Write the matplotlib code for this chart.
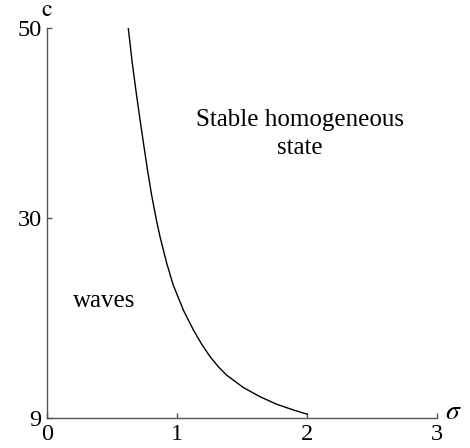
import matplotlib
matplotlib.use("Agg")
import matplotlib.pyplot as plt

# Boundary curve c(sigma) separating the wave regime from the stable state
sigma = [0.625, 0.655, 0.685, 0.715, 0.745, 0.775, 0.805, 0.840, 0.870,
         0.920, 0.970, 1.050, 1.126, 1.190, 1.254, 1.320, 1.382, 1.510,
         1.638, 1.765, 1.895, 2.0]
c = [50.0, 46.4, 43.3, 40.4, 37.6, 34.9, 32.4, 29.9, 28.0,
     25.3, 23.0, 20.3, 18.25, 16.75, 15.45, 14.35, 13.5, 12.2,
     11.24, 10.45, 9.84, 9.4]

x_ticks = [0, 1, 2, 3]
y_ticks = [9, 30, 50]

plt.rcParams["font.family"] = ["Liberation Serif", "DejaVu Serif"]
plt.rcParams["mathtext.fontset"] = "stix"

fig = plt.figure(figsize=(4.7, 4.48), dpi=100)
ax = fig.add_axes([0.1, 0.067, 0.83, 0.8705])

ax.plot(sigma, c, color="black", lw=1.0, solid_joinstyle="round")

ax.set_xlim(0, 3)
ax.set_ylim(9, 50)
ax.set_xticks(x_ticks)
ax.set_yticks(y_ticks)
ax.tick_params(direction="in", length=3.5, width=1.0, color="#555555",
               labelsize=17.5, pad=4)
for side in ("top", "right"):
    ax.spines[side].set_visible(False)
for side in ("left", "bottom"):
    ax.spines[side].set_color("#555555")
    ax.spines[side].set_linewidth(1.0)

# axis names: c above the vertical axis, sigma after the horizontal one
ax.text(0.0, 51.3, r"$\mathrm{c}$", fontsize=17, ha="center",
        va="baseline")
ax.text(3.06, 9.6, r"$\sigma$", fontsize=20, ha="left", va="center")

ax.text(1.946, 40.3, "Stable homogeneous", fontsize=18,
        ha="center", va="center")
ax.text(1.946, 37.4, "state", fontsize=18, ha="center", va="center")
ax.text(0.44, 21.3, "waves", fontsize=18, ha="center", va="center")

fig.savefig("out.png", dpi=100)
